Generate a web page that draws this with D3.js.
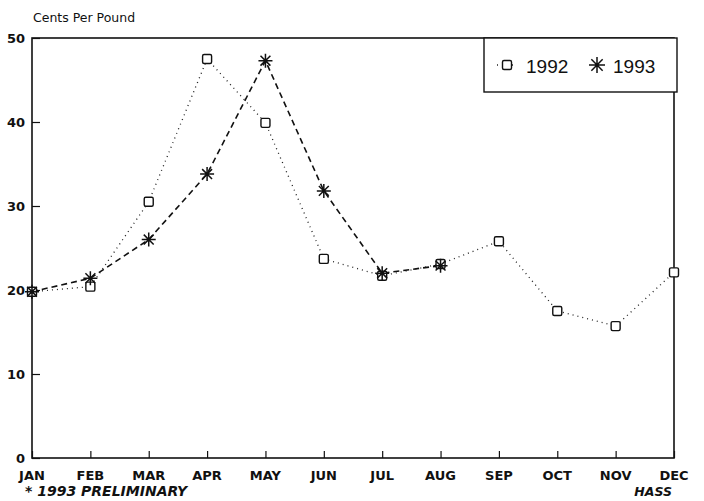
<!DOCTYPE html>
<html>
<head>
<meta charset="utf-8">
<script src="https://cdn.jsdelivr.net/npm/d3@7"></script>
<style>
  body { margin: 0; background: #fff; }
  svg { font-family: "DejaVu Sans", Arial, sans-serif; }
</style>
</head>
<body>
<svg width="704" height="501"></svg>
<script>
var months = ["JAN", "FEB", "MAR", "APR", "MAY", "JUN", "JUL", "AUG", "SEP", "OCT", "NOV", "DEC"]
var values1992 = [19.8, 20.4, 30.5, 47.5, 39.9, 23.7, 21.7, 23.1, 25.8, 17.5, 15.7, 22.1]
var values1993 = [19.8, 21.4, 26.0, 33.8, 47.3, 31.8, 22.0, 22.9]
var yTicks = [0, 10, 20, 30, 40, 50]

var svg = d3.select("svg")
var plotLeft = 32, plotRight = 674, plotTop = 38, plotBottom = 458

var x = d3.scalePoint().domain(months).range([plotLeft, plotRight])
var y = d3.scaleLinear().domain([0, 50]).range([plotBottom, plotTop])

// frame
svg.append("rect")
	.attr("x", plotLeft).attr("y", plotTop)
	.attr("width", plotRight - plotLeft).attr("height", plotBottom - plotTop)
	.attr("fill", "none").attr("stroke", "#111").attr("stroke-width", 1.6)

// y axis
var yAxis = svg.append("g")
	.attr("transform", "translate(" + plotLeft + ",0)")
	.call(d3.axisRight(y).tickValues(yTicks).tickSize(8).tickFormat(""))
yAxis.select(".domain").remove()
yAxis.selectAll("line").attr("stroke", "#111").attr("stroke-width", 1.2)

svg.selectAll(".ylab")
	.data(yTicks)
	.enter().append("text")
	.attr("class", "ylab")
	.attr("x", plotLeft - 7)
	.attr("y", d => y(d) + 5)
	.attr("text-anchor", "end")
	.attr("font-size", 13)
	.attr("font-weight", "bold")
	.attr("fill", "#111")
	.text(d => d)

// x axis
var xAxis = svg.append("g")
	.attr("transform", "translate(0," + plotBottom + ")")
	.call(d3.axisTop(x).tickSize(7).tickFormat(""))
xAxis.select(".domain").remove()
xAxis.selectAll("line").attr("stroke", "#111").attr("stroke-width", 1.2)

svg.selectAll(".xlab")
	.data(months)
	.enter().append("text")
	.attr("class", "xlab")
	.attr("x", d => x(d))
	.attr("y", plotBottom + 22)
	.attr("text-anchor", "middle")
	.attr("font-size", 13)
	.attr("font-weight", "bold")
	.attr("fill", "#111")
	.text(d => d)

// lines
var line = d3.line()
	.x((d, i) => x(months[i]))
	.y(d => y(d))

svg.append("path")
	.datum(values1992)
	.attr("d", line)
	.attr("fill", "none")
	.attr("stroke", "#222")
	.attr("stroke-width", 1.3)
	.attr("stroke-dasharray", "1,4")

svg.append("path")
	.datum(values1993)
	.attr("d", line)
	.attr("fill", "none")
	.attr("stroke", "#111")
	.attr("stroke-width", 1.6)
	.attr("stroke-dasharray", "6,4")

function square(g, cx, cy) {
	g.append("rect")
		.attr("x", cx - 4.5).attr("y", cy - 4.5)
		.attr("width", 9).attr("height", 9)
		.attr("rx", 1.5)
		.attr("fill", "#fff").attr("stroke", "#111").attr("stroke-width", 1.4)
}

function star(g, cx, cy, r) {
	var p = ""
	for (var k = 0; k < 4; k++) {
		var a = k * Math.PI / 4
		p += "M" + (cx - r * Math.cos(a)) + "," + (cy - r * Math.sin(a)) +
			"L" + (cx + r * Math.cos(a)) + "," + (cy + r * Math.sin(a))
	}
	g.append("path").attr("d", p).attr("stroke", "#111").attr("stroke-width", 1.5).attr("fill", "none")
}

var marks = svg.append("g")
values1992.forEach(function (v, i) { square(marks, x(months[i]), y(v)) })
values1993.forEach(function (v, i) { star(marks, x(months[i]), y(v), 7) })

// legend
var lg = svg.append("g")
lg.append("rect")
	.attr("x", 484).attr("y", 38)
	.attr("width", 193).attr("height", 54)
	.attr("fill", "#fff").attr("stroke", "#111").attr("stroke-width", 1.4)
lg.append("line")
	.attr("x1", 497).attr("x2", 517).attr("y1", 65).attr("y2", 65)
	.attr("stroke", "#222").attr("stroke-width", 1.3).attr("stroke-dasharray", "1,4")
square(lg, 507, 65)
lg.append("text").attr("x", 526).attr("y", 73)
	.attr("font-family", "Liberation Sans, Arial, sans-serif")
	.attr("font-size", 19).attr("fill", "#111").text("1992")
star(lg, 597, 65, 8)
lg.append("text").attr("x", 613).attr("y", 73)
	.attr("font-family", "Liberation Sans, Arial, sans-serif")
	.attr("font-size", 19).attr("fill", "#111").text("1993")

// titles and notes
svg.append("text")
	.attr("x", 33).attr("y", 22)
	.attr("font-size", 12.5).attr("fill", "#111")
	.text("Cents Per Pound")

svg.append("text")
	.attr("x", 25).attr("y", 496)
	.attr("font-size", 14).attr("font-weight", "bold").attr("font-style", "italic")
	.attr("fill", "#111")
	.text("* 1993 PRELIMINARY")

svg.append("text")
	.attr("x", 672).attr("y", 496)
	.attr("text-anchor", "end")
	.attr("font-size", 12.5).attr("font-style", "italic").attr("font-weight", "bold")
	.attr("fill", "#111")
	.text("HASS")
</script>
</body>
</html>
